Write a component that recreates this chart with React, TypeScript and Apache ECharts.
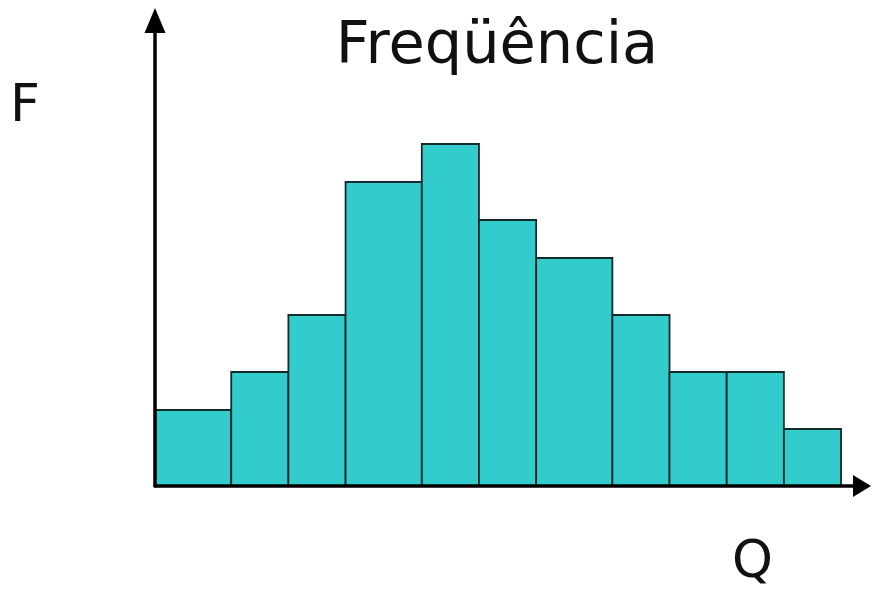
import React, { useEffect, useRef } from "react";
import * as echarts from "echarts";

// Class edges (Q) and frequencies (F), in common units
const binEdges = [0, 4, 7, 10, 14, 17, 20, 24, 27, 30, 33, 36];
const frequencies = [4, 6, 9, 16, 18, 14, 12, 9, 6, 6, 3];
const titleText = "Freqüência";
const yLabel = "F";
const xLabel = "Q";

export default function App() {
  const ref = useRef<HTMLDivElement>(null);
  useEffect(() => {
    document.body.style.margin = "0";
    if (!ref.current) return;
    const chart = echarts.init(ref.current, undefined, { renderer: "svg" });
    const data = frequencies.map((f, i) => [binEdges[i], binEdges[i + 1], f]);
    chart.setOption({
      animation: false,
      backgroundColor: "#ffffff",
      grid: { left: 155, right: 10, top: 20.5, bottom: 113 },
      xAxis: {
        type: "value",
        min: 0,
        max: 37.1,
        z: 10,
        axisLine: {
          show: true,
          symbol: ["none", "triangle"],
          symbolSize: [22, 18],
          lineStyle: { color: "#000", width: 3.5 },
        },
        axisTick: { show: false },
        axisLabel: { show: false },
        splitLine: { show: false },
      },
      yAxis: {
        type: "value",
        min: 0,
        max: 24.5,
        z: 10,
        axisLine: {
          show: true,
          symbol: ["none", "triangle"],
          symbolSize: [21, 25],
          lineStyle: { color: "#000", width: 3.5 },
        },
        axisTick: { show: false },
        axisLabel: { show: false },
        splitLine: { show: false },
      },
      series: [
        {
          type: "custom",
          data,
          encode: { x: [0, 1], y: 2 },
          renderItem: (params: any, api: any) => {
            const x0 = api.value(0);
            const x1 = api.value(1);
            const h = api.value(2);
            const p0 = api.coord([x0, h]);
            const p1 = api.coord([x1, 0]);
            return {
              type: "rect",
              shape: { x: p0[0], y: p0[1], width: p1[0] - p0[0], height: p1[1] - p0[1] },
              style: { fill: "#33CCCC", stroke: "#132a2a", lineWidth: 1.8 },
            };
          },
          z: 1,
        },
      ],
      graphic: [
        {
          type: "text",
          x: 497,
          y: 42,
          style: {
            text: titleText,
            font: "59px 'DejaVu Sans'",
            fill: "#111",
            textAlign: "center",
            textVerticalAlign: "middle",
          },
        },
        {
          type: "text",
          x: 10,
          y: 103,
          style: {
            text: yLabel,
            font: "52px 'DejaVu Sans'",
            fill: "#111",
            textAlign: "left",
            textVerticalAlign: "middle",
          },
        },
        {
          type: "text",
          x: 732,
          y: 559,
          style: {
            text: xLabel,
            font: "52px 'DejaVu Sans'",
            fill: "#111",
            textAlign: "left",
            textVerticalAlign: "middle",
          },
        },
      ],
    });
    return () => chart.dispose();
  }, []);
  return <div ref={ref} style={{ width: 872, height: 599 }} />;
}
